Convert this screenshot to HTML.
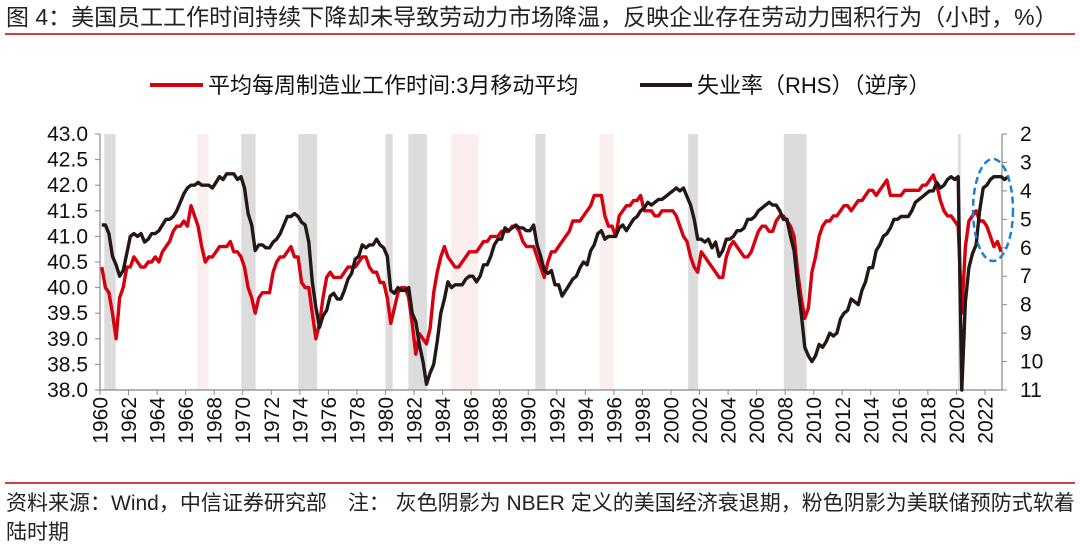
<!DOCTYPE html>
<html><head><meta charset="utf-8">
<style>
body{margin:0;background:#fff;width:1080px;height:553px;overflow:hidden;font-family:"Liberation Sans","Noto Sans CJK SC",sans-serif;}
svg text{font-family:"Liberation Sans","Noto Sans CJK SC",sans-serif;}
</style></head>
<body>
<svg id="chart" width="1080" height="553" xmlns="http://www.w3.org/2000/svg">
<text x="6" y="25" font-size="23" fill="#222">图 4：美国员工工作时间持续下降却未导致劳动力市场降温，反映企业存在劳动力囤积行为（小时，%）</text>
<line x1="5" y1="34" x2="1075" y2="34" stroke="#c00000" stroke-width="1.5"/>
<g>
<line x1="150" y1="85" x2="203" y2="85" stroke="#d7000f" stroke-width="4"/>
<text x="208" y="93" font-size="22" fill="#111">平均每周制造业工作时间:3月移动平均</text>
<line x1="640" y1="85" x2="692" y2="85" stroke="#231815" stroke-width="4"/>
<text x="697" y="93" font-size="22" fill="#111">失业率（RHS）（逆序）</text>
</g>
<g id="shade"></g><g id="axes"></g><g id="lines"></g>
<ellipse cx="993" cy="210" rx="20" ry="51" fill="none" stroke="#1f7fd0" stroke-width="2.5" stroke-dasharray="7,4"/>
<line x1="5" y1="483" x2="1075" y2="483" stroke="#c00000" stroke-width="1.5"/>
<text x="6" y="510" font-size="21" fill="#222">资料来源：Wind，中信证券研究部　注：  灰色阴影为 NBER 定义的美国经济衰退期，粉色阴影为美联储预防式软着</text>
<text x="6" y="539" font-size="21" fill="#222">陆时期</text>
</svg>
<script>
const hours=[40.4,40.0,39.9,39.5,39.0,39.8,40.0,40.4,40.4,40.6,40.5,40.4,40.4,40.5,40.5,40.6,40.5,40.7,40.8,40.9,41.1,41.2,41.2,41.3,41.2,41.6,41.4,41.2,40.8,40.5,40.6,40.6,40.7,40.8,40.8,40.8,40.9,40.7,40.7,40.6,40.4,40.0,39.8,39.5,39.8,39.9,39.9,39.9,40.3,40.5,40.6,40.6,40.7,40.8,40.6,40.6,40.1,40.0,40.0,39.5,39.0,39.3,39.8,40.2,40.3,40.2,40.2,40.2,40.3,40.4,40.4,40.4,40.5,40.6,40.6,40.4,40.3,40.3,40.1,40.1,39.8,39.3,39.6,39.9,40.0,40.0,39.8,39.3,38.7,39.1,39.0,38.9,39.2,39.9,40.3,40.6,40.8,40.6,40.5,40.4,40.4,40.5,40.6,40.7,40.7,40.7,40.8,40.9,40.9,41.0,41.0,41.0,41.1,41.1,41.1,41.2,41.2,41.1,40.9,40.8,40.8,40.8,40.6,40.4,40.2,40.5,40.7,40.7,40.8,40.9,41.0,41.1,41.3,41.3,41.3,41.4,41.5,41.6,41.8,41.8,41.8,41.4,41.2,41.2,41.0,41.4,41.5,41.6,41.6,41.7,41.7,41.8,41.5,41.5,41.5,41.4,41.4,41.5,41.5,41.5,41.5,41.4,41.2,41.0,40.9,40.6,40.4,40.3,40.7,40.6,40.5,40.4,40.3,40.2,40.2,40.6,40.8,40.9,40.8,40.7,40.6,40.6,40.7,40.9,41.1,41.2,41.2,41.1,41.1,41.3,41.4,41.4,41.3,41.2,41.0,40.3,39.8,39.4,39.6,40.3,40.6,41.0,41.2,41.3,41.3,41.4,41.4,41.5,41.6,41.6,41.5,41.6,41.7,41.7,41.8,41.9,41.9,41.8,41.9,42.0,42.1,41.8,41.8,41.8,41.8,41.9,41.9,41.9,41.9,41.9,42.0,42.0,42.1,42.2,42.0,41.7,41.5,41.4,41.4,41.3,41.2,39.5,40.8,41.3,41.4,41.5,41.3,41.3,41.2,41.0,40.8,40.9,40.7];
const unemp=[5.2,5.2,5.5,6.3,6.6,7.0,6.8,6.2,5.6,5.5,5.6,5.5,5.8,5.7,5.5,5.5,5.4,5.2,5.0,5.0,4.9,4.7,4.4,4.1,3.9,3.8,3.8,3.7,3.8,3.8,3.8,3.9,3.7,3.5,3.6,3.4,3.4,3.4,3.6,3.5,3.9,4.8,5.2,6.1,5.9,5.9,6.0,6.0,5.8,5.7,5.5,5.2,4.9,4.9,4.8,4.9,5.1,5.2,5.8,7.2,8.1,8.8,8.4,8.2,7.7,7.6,7.8,7.8,7.5,7.1,6.9,6.4,6.3,5.9,6.0,5.9,5.9,5.7,5.9,6.0,6.3,7.5,7.6,7.4,7.5,7.5,7.4,8.3,8.6,9.4,10.0,10.8,10.4,10.1,9.3,8.3,7.8,7.2,7.4,7.3,7.3,7.3,7.1,7.0,7.0,7.2,7.0,6.6,6.6,6.3,5.9,5.7,5.7,5.3,5.4,5.3,5.2,5.3,5.3,5.4,5.4,5.2,5.9,6.3,6.8,6.9,6.8,7.3,7.3,7.7,7.5,7.3,7.1,7.0,6.7,6.5,6.6,6.1,5.9,5.5,5.4,5.7,5.6,5.6,5.6,5.3,5.2,5.4,5.2,5.0,4.9,4.7,4.6,4.4,4.5,4.4,4.3,4.3,4.2,4.1,4.0,3.9,4.0,3.9,4.2,4.5,5.0,5.7,5.7,5.8,5.7,6.0,5.8,6.3,6.1,5.7,5.7,5.6,5.4,5.4,5.3,5.0,5.0,4.9,4.7,4.6,4.5,4.4,4.5,4.5,4.7,5.0,5.0,5.6,6.1,7.3,8.3,9.5,9.8,10.0,9.8,9.4,9.5,9.3,9.0,9.1,9.0,8.5,8.3,8.2,7.8,7.9,8.0,7.5,7.2,6.7,6.7,6.1,5.9,5.6,5.5,5.3,5.0,5.0,4.9,4.9,4.9,4.7,4.4,4.3,4.2,4.1,4.0,4.0,3.7,3.9,3.8,3.6,3.5,3.6,3.5,11,7.9,6.7,6.2,5.9,4.7,3.9,3.8,3.6,3.5,3.5,3.5,3.6,3.5];
const grayPeriods=[[1960.3,1961.1],[1969.9,1970.9],[1973.9,1975.2],[1980.0,1980.5],[1981.6,1982.9],[1990.5,1991.2],[2001.2,2001.9],[2007.9,2009.5],[2020.1,2020.3]];
const pinkPeriods=[[1966.8,1967.6],[1984.6,1986.5],[1995.0,1996.0]];
const leftTicks=[43.0,42.5,42.0,41.5,41.0,40.5,40.0,39.5,39.0,38.5,38.0];
const rightTicks=[2,3,4,5,6,7,8,9,10,11];
const yearTicks=[1960,1962,1964,1966,1968,1970,1972,1974,1976,1978,1980,1982,1984,1986,1988,1990,1992,1994,1996,1998,2000,2002,2004,2006,2008,2010,2012,2014,2016,2018,2020,2022];

const NS="http://www.w3.org/2000/svg";
const X0=100,X1=1002,Y0=134,Y1=390;
const xs=t=>X0+(t-1960)*(985-100)/62;
const yl=v=>Y0+(43-v)*(Y1-Y0)/5;
const yr=v=>Y0+(v-2)*(Y1-Y0)/9;
function mk(tag,attrs,parent){const e=document.createElementNS(NS,tag);for(const k in attrs)e.setAttribute(k,attrs[k]);parent.appendChild(e);return e;}
const shade=document.getElementById('shade'),axes=document.getElementById('axes'),lines=document.getElementById('lines');
grayPeriods.forEach(p=>{const r=mk('rect',{x:xs(p[0]),y:Y0,width:xs(p[1])-xs(p[0]),height:Y1-Y0,fill:'#dcdcdc'},shade);

});
pinkPeriods.forEach(p=>{const r=mk('rect',{x:xs(p[0]),y:Y0,width:xs(p[1])-xs(p[0]),height:Y1-Y0,fill:'#fbeeee'},shade);

});
let a=mk('line',{x1:X0,y1:Y0,x2:X0,y2:Y1,stroke:'#888','stroke-width':1.2},axes);


a=mk('line',{x1:X1,y1:Y0,x2:X1,y2:Y1,stroke:'#888','stroke-width':1.2},axes);


a=mk('line',{x1:X0,y1:Y1,x2:X1,y2:Y1,stroke:'#888','stroke-width':1.2},axes);


leftTicks.forEach(v=>{mk('line',{x1:X0-5,y1:yl(v),x2:X0,y2:yl(v),stroke:'#888'},axes);
const t=mk('text',{x:X0-12,y:yl(v)+7,'font-size':21,'text-anchor':'end',fill:'#111'},axes);t.textContent=v.toFixed(1);

});
rightTicks.forEach(v=>{mk('line',{x1:X1,y1:yr(v),x2:X1+5,y2:yr(v),stroke:'#888'},axes);
const t=mk('text',{x:X1+18,y:yr(v)+7,'font-size':21,fill:'#111'},axes);t.textContent=v;

});
yearTicks.forEach(v=>{const x=xs(v);mk('line',{x1:x,y1:Y1,x2:x,y2:Y1+5,stroke:'#888'},axes);
const t=mk('text',{x:0,y:0,'font-size':21,'text-anchor':'end',fill:'#111',transform:`translate(${x+7.5},${Y1+7}) rotate(-90)`},axes);t.textContent=v;

});
function path(data,yf,color,name){let d='';data.forEach((v,i)=>{const t=1960+i*0.25+0.125;d+=(i?'L':'M')+xs(t).toFixed(1)+','+yf(v).toFixed(1);});
const p=mk('path',{d:d,fill:'none',stroke:color,'stroke-width':3.4,'stroke-linejoin':'round'},lines);

}
path(hours,yl,'#d7000f','hours-line');
path(unemp,yr,'#231815','unemployment-line');
</script>
</body></html>
